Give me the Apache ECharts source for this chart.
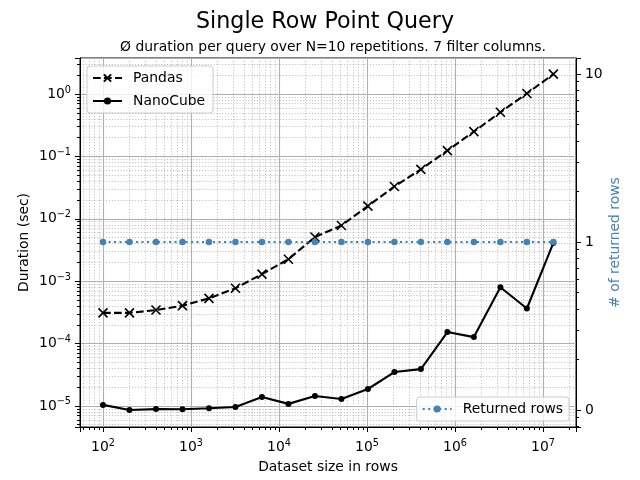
<!DOCTYPE html>
<html>
<head>
<meta charset="utf-8">
<script src="https://cdn.jsdelivr.net/npm/echarts@6/dist/echarts.min.js"></script>
<style>
  html, body { margin: 0; padding: 0; background: #fff; }
  #chart { width: 640px; height: 480px; }
</style>
</head>
<body>
<div id="chart"></div>
<script>
// dataset sizes (rows)
var rows = [100, 200, 400, 800, 1600, 3200, 6400, 12800, 25600, 51200, 102400,
  204800, 409600, 819200, 1638400, 3276800, 6553600, 13107200];
// seconds per query
var pandas = [3.1e-4, 3.1e-4, 3.45e-4, 4.05e-4, 5.3e-4, 7.7e-4, 1.3e-3, 2.25e-3, 5.1e-3,
  7.8e-3, 1.6e-2, 3.3e-2, 6.2e-2, 0.124, 0.25, 0.51, 1.02, 2.08];
var nanocube = [1.04e-5, 8.6e-6, 8.9e-6, 8.85e-6, 9.2e-6, 9.6e-6, 1.39e-5, 1.08e-5, 1.44e-5,
  1.29e-5, 1.87e-5, 3.5e-5, 3.9e-5, 1.53e-4, 1.27e-4, 8.0e-4, 3.65e-4, 4.1e-3];
var returned = [1, 1, 1, 1, 1, 1, 1, 1, 1, 1, 1, 1, 1, 1, 1, 1, 1, 1];

var FONT = 'DejaVu Sans';
var GRID = '#b0b0b0';
var BLUE = '#4682b4';

function pairs(ys) {
  return rows.map(function (x, i) { return [x, ys[i]]; });
}

function powLabel(v) {
  var l = Math.log10(v);
  var e = Math.round(l);
  if (Math.abs(l - e) > 1e-6) return '';
  var s = e < 0 ? '\u2212' + (-e) : '' + e;
  return '{b|10}{s|' + s + '}';
}

var richLbl = {
  b: { fontFamily: FONT, fontSize: 13.9, color: '#000' },
  s: { fontFamily: FONT, fontSize: 9.7, color: '#000', padding: [0, 0, 8, 0] }
};

var chart = echarts.init(document.getElementById('chart'), null, { renderer: 'canvas' });

var option = {
  backgroundColor: '#fff',
  animation: false,
  title: [
    { text: 'Single Row Point Query', left: 320, textAlign: 'center', top: 6,
      textStyle: { fontFamily: FONT, fontSize: 22.2, fontWeight: 'normal', color: '#000' } },
    { text: '\u00d8 duration per query over N=10 repetitions. 7 filter columns.', left: 328, textAlign: 'center', top: 35,
      textStyle: { fontFamily: FONT, fontSize: 13.9, fontWeight: 'normal', color: '#000' } }
  ],
  grid: { left: 80, right: 64, top: 58, bottom: 53, show: true, borderColor: '#000', borderWidth: 1, backgroundColor: 'transparent' },
  legend: [
    { data: ['Pandas', 'NanoCube'], orient: 'vertical', left: 87, top: 66,
      itemWidth: 29, itemHeight: 9, itemGap: 9, padding: [5, 8, 5, 5],
      backgroundColor: 'rgba(255,255,255,0.8)', borderColor: '#cccccc', borderWidth: 1, borderRadius: 3,
      textStyle: { fontFamily: FONT, fontSize: 13.9, color: '#000', padding: [0, 0, 0, 6] } },
    { data: ['Returned rows'], orient: 'vertical', right: 71, bottom: 59,
      itemWidth: 29, itemHeight: 9, padding: [5, 6, 5, 5],
      backgroundColor: 'rgba(255,255,255,0.8)', borderColor: '#cccccc', borderWidth: 1, borderRadius: 3,
      textStyle: { fontFamily: FONT, fontSize: 13.9, color: '#000', padding: [0, 0, 0, 6] } }
  ],
  xAxis: {
    type: 'log', logBase: 10, min: 54.8, max: 2.37e7,
    name: 'Dataset size in rows', nameLocation: 'middle', nameGap: 33, nameMoveOverlap: false,
    nameTextStyle: { fontFamily: FONT, fontSize: 13.9, color: '#000' },
    axisLine: { lineStyle: { color: '#000', width: 1 } },
    axisTick: { inside: false, length: 5, lineStyle: { color: '#000' } },
    minorTick: { show: true, splitNumber: 9, length: 3, lineStyle: { color: '#000' } },
    axisLabel: { margin: 11, formatter: powLabel, rich: richLbl },
    splitLine: { show: true, lineStyle: { color: GRID, width: 1.1 } },
    minorSplitLine: { show: true, lineStyle: { color: GRID, width: 0.8, type: [1.1, 1.8] } }
  },
  yAxis: [
    { type: 'log', logBase: 10, min: 4.6e-6, max: 3.78, position: 'left',
      name: 'Duration (sec)', nameLocation: 'middle', nameGap: 49, nameRotate: 90, nameMoveOverlap: false,
      nameTextStyle: { fontFamily: FONT, fontSize: 13.9, color: '#000' },
      axisLine: { show: true, lineStyle: { color: '#000', width: 1 } },
      axisTick: { show: true, length: 5, lineStyle: { color: '#000' } },
      minorTick: { show: true, splitNumber: 9, length: 3, lineStyle: { color: '#000' } },
      axisLabel: { margin: 9, formatter: powLabel, rich: richLbl },
      splitLine: { show: true, lineStyle: { color: GRID, width: 1.1 } },
      minorSplitLine: { show: true, lineStyle: { color: GRID, width: 0.8, type: [1.1, 1.8] } }
    },
    { type: 'log', logBase: 10, min: 0.0792, max: 12.45, position: 'right',
      name: '# of returned rows', nameLocation: 'middle', nameGap: 32, nameRotate: 90, nameMoveOverlap: false,
      nameTextStyle: { fontFamily: FONT, fontSize: 13.9, color: BLUE },
      axisLine: { show: true, lineStyle: { color: '#000', width: 1 } },
      axisTick: { show: true, length: 5, lineStyle: { color: '#000' } },
      minorTick: { show: true, splitNumber: 9, length: 3, lineStyle: { color: '#000' } },
      axisLabel: { margin: 9, fontFamily: FONT, fontSize: 13.9, color: '#000',
        formatter: function (v) {
          var l = Math.log10(v), e = Math.round(l);
          if (Math.abs(l - e) > 1e-6) return '';
          return e < 0 ? '0' : String(Math.pow(10, e));
        } },
      splitLine: { show: false },
      minorSplitLine: { show: false }
    }
  ],
  series: [
    { name: 'Pandas', type: 'line', data: pairs(pandas), yAxisIndex: 0,
      symbol: 'path://M0,0L10,10M10,0L0,10', symbolSize: 9,
      itemStyle: { color: '#000', borderColor: '#000', borderWidth: 1.6 },
      lineStyle: { color: '#000', width: 2.1, type: [7.7, 3.3] }, z: 3 },
    { name: 'NanoCube', type: 'line', data: pairs(nanocube), yAxisIndex: 0,
      symbol: 'circle', symbolSize: 6,
      itemStyle: { color: '#000' },
      lineStyle: { color: '#000', width: 2.1 }, z: 3 },
    { name: 'Returned rows', type: 'line', data: pairs(returned), yAxisIndex: 1,
      symbol: 'circle', symbolSize: 6.5,
      itemStyle: { color: BLUE },
      lineStyle: { color: BLUE, width: 2.1, type: [2.1, 3.4] }, z: 4 }
  ]
};

chart.setOption(option);
</script>
</body>
</html>
